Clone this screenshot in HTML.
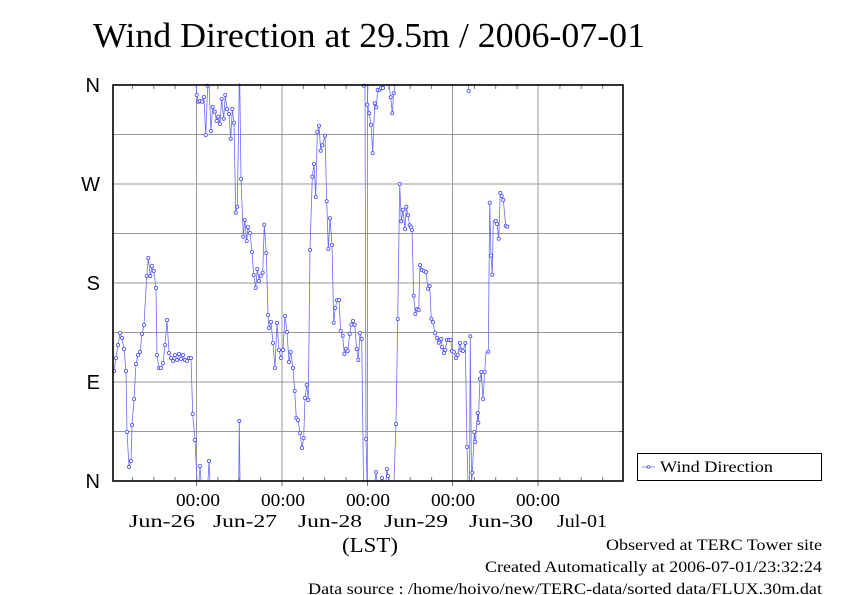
<!DOCTYPE html>
<html><head><meta charset="utf-8"><style>
html,body{margin:0;padding:0;background:#fff}
svg{display:block}
.s{font-family:"Liberation Serif",serif}
.a{font-family:"Liberation Sans",sans-serif}
</style></head><body>
<svg width="842" height="595" viewBox="0 0 842 595" xmlns="http://www.w3.org/2000/svg">
<text x="93" y="47" class="s" font-size="35" textLength="552" lengthAdjust="spacingAndGlyphs">Wind Direction at 29.5m / 2006-07-01</text>
<g stroke="#999" stroke-width="1">
<line x1="113" y1="134.5" x2="623" y2="134.5"/><line x1="113" y1="184" x2="623" y2="184"/>
<line x1="113" y1="233.5" x2="623" y2="233.5"/><line x1="113" y1="283" x2="623" y2="283"/>
<line x1="113" y1="332.5" x2="623" y2="332.5"/><line x1="113" y1="382" x2="623" y2="382"/>
<line x1="113" y1="431.5" x2="623" y2="431.5"/>
<line x1="196.5" y1="85" x2="196.5" y2="481"/><line x1="282" y1="85" x2="282" y2="481"/>
<line x1="367.5" y1="85" x2="367.5" y2="481"/><line x1="452.5" y1="85" x2="452.5" y2="481"/>
<line x1="538" y1="85" x2="538" y2="481"/>
</g>
<g stroke="#777" stroke-width="1">
<path d="M132.4 85v4M153.8 85v4M175.1 85v4M217.9 85v4M239.2 85v4M260.6 85v4M303.4 85v4M324.7 85v4M346.1 85v4M388.9 85v4M410.2 85v4M431.6 85v4M474.4 85v4M495.7 85v4M517.1 85v4M559.9 85v4M581.2 85v4M602.6 85v4"/>
<path d="M132.4 481v-4M153.8 481v-4M175.1 481v-4M217.9 481v-4M239.2 481v-4M260.6 481v-4M303.4 481v-4M324.7 481v-4M346.1 481v-4M388.9 481v-4M410.2 481v-4M431.6 481v-4M474.4 481v-4M495.7 481v-4M517.1 481v-4M559.9 481v-4M581.2 481v-4M602.6 481v-4"/>
<path d="M623 134.5h-4M623 233.5h-4M623 332.5h-4M623 431.5h-4M623 184h-4M623 283h-4M623 382h-4"/>
<path d="M196.5 481v5M282 481v5M367.5 481v5M452.5 481v5M538 481v5"/>
</g>
<g fill="none" stroke="#6a6aff" stroke-width="0.8" stroke-linejoin="round">
<polyline points="114,371 116,358 118,345 120,333 122,338 124,349 126,371 127,432 129,467 131,461 132,425 134,399 136,364 138,355 140,352 142,334 144,325 146.7,276 148.3,258 150.3,276 152,266 153.7,271 156,288 157,355 159,368 161,368 163,363 165,345 167,320 169,353 171,358 173,361 175,355 177,360 179,354 181,359 183,355 185,360 187,361 189,358 191,358 192.7,414 195,440 197,481"/>
<polyline points="199,481 200,466 201,481"/>
<polyline points="208,481 209,461 210,481"/>
<polyline points="196,85 196.7,95 198.3,101.7 200,101 202,101.7 204,97 205.7,135 207.7,85.7 209,85 211,131 212.7,107 214.7,111.7 216.7,121 218.3,116.7 220,124 221.7,99 223.7,118.7 225.3,95 227,109 229,114 230.7,138.7 232.3,109 234,122.7 235.7,212.7 237.3,206.7 239.3,83"/>
<polyline points="238.7,481 239.3,421 240,481"/>
<polyline points="239.8,85 241,179 243.3,236.7 244.7,220 246.7,241 248,227 250,233 252,252 253.7,275 255.7,288 257.3,269 259,281 260.7,275.7 262.7,272.7 264.3,224.7 266.3,253 268,315 269,328 271,322 273,343 275,368 277,323 279,350 281,358 283,350 285,316 287,332 289,362 290.7,352 293,368 294.7,391 296.3,418 298,420 300,433 302,448 303.7,438 305,398 306.7,385 308.3,400 310,250 312.3,176.7 314,164 315.7,197 317.3,132 319,125.7 320.7,150.7 322.3,145.3 325,135.7 326.7,201.3 328.3,249 330,218.3 332,245 333.7,322.7 335.3,308 337,300.3 339,300 340.7,331 342.7,335.7 344.3,354 346,349 347.7,351 349.7,334 351.3,324.7 353,321 354.7,324.7 356.7,349 358.3,360 360,333 361.7,339 363.5,481"/>
<polyline points="364,85.7 365,85 366,439 367,481"/>
<polyline points="375,481 376,472 377,481"/>
<polyline points="381,481 382,478 384,481"/>
<polyline points="386,481 387,469 388,476 389,481"/>
<polyline points="394,481 396,424 397.7,319 399.7,184 401.3,221.3 403,209.7 405,229 406.3,206.7 408,215.3 409.7,225.3 411,227.3 412,230 413.7,295.7 415.3,314 417,309.3 418.7,310 420,265 422,270 424,271 426,272 428,288.7 429.7,286 431.3,318.7 433,322.3 435,333 437,338 438.7,342.7 440,340 441.3,339 442,347 444,353 445.3,350 447,340 449,340 450.7,340 452,351 454,352 456,358 457.7,355 460,343 461.3,350 463,351 465.3,343 467,447 468,481"/>
<polyline points="368,85 367.3,104.7 369.3,113.3 371,124.7 372.7,153 374.7,103.3 376.3,107.3 377.7,90 379.7,89.7 381,88 383,88 384,85"/>
<polyline points="389,85 390.7,97.3 392.3,113.3 393.7,93.3 395,85"/>
<polyline points="468.5,85 468.7,91"/>
<polyline points="469.5,481 470.3,336.3 471.5,481"/>
<polyline points="471.7,481 472.3,472.7 474.3,432 475.3,442 477.7,413 478.3,422.7 480,378.7 481.3,372 483,399 484.7,372 486,352 488.3,351.7 489.7,202.7 491,255.7 492.3,274.7 493.3,221 495.7,221 497,224 498.7,238.7 500.3,193 501.7,196 503.3,200 505.7,225.7 507.3,226.7"/>
</g>
<g fill="#fff" stroke="#4a4aff" stroke-width="0.8">
<circle cx="114" cy="371" r="1.6"/><circle cx="116" cy="358" r="1.6"/><circle cx="118" cy="345" r="1.6"/><circle cx="120" cy="333" r="1.6"/><circle cx="122" cy="338" r="1.6"/><circle cx="124" cy="349" r="1.6"/><circle cx="126" cy="371" r="1.6"/><circle cx="127" cy="432" r="1.6"/><circle cx="129" cy="467" r="1.6"/><circle cx="131" cy="461" r="1.6"/><circle cx="132" cy="425" r="1.6"/><circle cx="134" cy="399" r="1.6"/><circle cx="136" cy="364" r="1.6"/><circle cx="138" cy="355" r="1.6"/><circle cx="140" cy="352" r="1.6"/><circle cx="142" cy="334" r="1.6"/><circle cx="144" cy="325" r="1.6"/><circle cx="146.7" cy="276" r="1.6"/><circle cx="148.3" cy="258" r="1.6"/><circle cx="150.3" cy="276" r="1.6"/><circle cx="152" cy="266" r="1.6"/><circle cx="153.7" cy="271" r="1.6"/><circle cx="156" cy="288" r="1.6"/><circle cx="157" cy="355" r="1.6"/><circle cx="159" cy="368" r="1.6"/><circle cx="161" cy="368" r="1.6"/><circle cx="163" cy="363" r="1.6"/><circle cx="165" cy="345" r="1.6"/><circle cx="167" cy="320" r="1.6"/><circle cx="169" cy="353" r="1.6"/><circle cx="171" cy="358" r="1.6"/><circle cx="173" cy="361" r="1.6"/><circle cx="175" cy="355" r="1.6"/><circle cx="177" cy="360" r="1.6"/><circle cx="179" cy="354" r="1.6"/><circle cx="181" cy="359" r="1.6"/><circle cx="183" cy="355" r="1.6"/><circle cx="185" cy="360" r="1.6"/><circle cx="187" cy="361" r="1.6"/><circle cx="189" cy="358" r="1.6"/><circle cx="191" cy="358" r="1.6"/><circle cx="192.7" cy="414" r="1.6"/><circle cx="195" cy="440" r="1.6"/>
<circle cx="200" cy="466" r="1.6"/><circle cx="209" cy="461" r="1.6"/><circle cx="239.3" cy="421" r="1.6"/>
<circle cx="196.7" cy="95" r="1.6"/><circle cx="198.3" cy="101.7" r="1.6"/><circle cx="200" cy="101" r="1.6"/><circle cx="202" cy="101.7" r="1.6"/><circle cx="204" cy="97" r="1.6"/><circle cx="205.7" cy="135" r="1.6"/><circle cx="207.7" cy="85.7" r="1.6"/><circle cx="211" cy="131" r="1.6"/><circle cx="212.7" cy="107" r="1.6"/><circle cx="214.7" cy="111.7" r="1.6"/><circle cx="216.7" cy="121" r="1.6"/><circle cx="218.3" cy="116.7" r="1.6"/><circle cx="220" cy="124" r="1.6"/><circle cx="221.7" cy="99" r="1.6"/><circle cx="223.7" cy="118.7" r="1.6"/><circle cx="225.3" cy="95" r="1.6"/><circle cx="227" cy="109" r="1.6"/><circle cx="229" cy="114" r="1.6"/><circle cx="230.7" cy="138.7" r="1.6"/><circle cx="232.3" cy="109" r="1.6"/><circle cx="234" cy="122.7" r="1.6"/><circle cx="235.7" cy="212.7" r="1.6"/><circle cx="237.3" cy="206.7" r="1.6"/>
<circle cx="241" cy="179" r="1.6"/><circle cx="243.3" cy="236.7" r="1.6"/><circle cx="244.7" cy="220" r="1.6"/><circle cx="246.7" cy="241" r="1.6"/><circle cx="248" cy="227" r="1.6"/><circle cx="250" cy="233" r="1.6"/><circle cx="252" cy="252" r="1.6"/><circle cx="253.7" cy="275" r="1.6"/><circle cx="255.7" cy="288" r="1.6"/><circle cx="257.3" cy="269" r="1.6"/><circle cx="259" cy="281" r="1.6"/><circle cx="260.7" cy="275.7" r="1.6"/><circle cx="262.7" cy="272.7" r="1.6"/><circle cx="264.3" cy="224.7" r="1.6"/><circle cx="266.3" cy="253" r="1.6"/><circle cx="268" cy="315" r="1.6"/><circle cx="269" cy="328" r="1.6"/><circle cx="271" cy="322" r="1.6"/><circle cx="273" cy="343" r="1.6"/><circle cx="275" cy="368" r="1.6"/><circle cx="277" cy="323" r="1.6"/><circle cx="279" cy="350" r="1.6"/><circle cx="281" cy="358" r="1.6"/><circle cx="283" cy="350" r="1.6"/><circle cx="285" cy="316" r="1.6"/><circle cx="287" cy="332" r="1.6"/><circle cx="289" cy="362" r="1.6"/><circle cx="290.7" cy="352" r="1.6"/><circle cx="293" cy="368" r="1.6"/><circle cx="294.7" cy="391" r="1.6"/><circle cx="296.3" cy="418" r="1.6"/><circle cx="298" cy="420" r="1.6"/><circle cx="300" cy="433" r="1.6"/><circle cx="302" cy="448" r="1.6"/><circle cx="303.7" cy="438" r="1.6"/><circle cx="305" cy="398" r="1.6"/><circle cx="306.7" cy="385" r="1.6"/><circle cx="308.3" cy="400" r="1.6"/><circle cx="310" cy="250" r="1.6"/><circle cx="312.3" cy="176.7" r="1.6"/><circle cx="314" cy="164" r="1.6"/><circle cx="315.7" cy="197" r="1.6"/><circle cx="317.3" cy="132" r="1.6"/><circle cx="319" cy="125.7" r="1.6"/><circle cx="320.7" cy="150.7" r="1.6"/><circle cx="322.3" cy="145.3" r="1.6"/><circle cx="325" cy="135.7" r="1.6"/><circle cx="326.7" cy="201.3" r="1.6"/><circle cx="328.3" cy="249" r="1.6"/><circle cx="330" cy="218.3" r="1.6"/><circle cx="332" cy="245" r="1.6"/><circle cx="333.7" cy="322.7" r="1.6"/><circle cx="335.3" cy="308" r="1.6"/><circle cx="337" cy="300.3" r="1.6"/><circle cx="339" cy="300" r="1.6"/><circle cx="340.7" cy="331" r="1.6"/><circle cx="342.7" cy="335.7" r="1.6"/><circle cx="344.3" cy="354" r="1.6"/><circle cx="346" cy="349" r="1.6"/><circle cx="347.7" cy="351" r="1.6"/><circle cx="349.7" cy="334" r="1.6"/><circle cx="351.3" cy="324.7" r="1.6"/><circle cx="353" cy="321" r="1.6"/><circle cx="354.7" cy="324.7" r="1.6"/><circle cx="356.7" cy="349" r="1.6"/><circle cx="358.3" cy="360" r="1.6"/><circle cx="360" cy="333" r="1.6"/><circle cx="361.7" cy="339" r="1.6"/>
<circle cx="364" cy="85.7" r="1.6"/><circle cx="366" cy="439" r="1.6"/><circle cx="376" cy="472" r="1.6"/><circle cx="382" cy="478" r="1.6"/><circle cx="387" cy="469" r="1.6"/><circle cx="388" cy="476" r="1.6"/>
<circle cx="367.3" cy="104.7" r="1.6"/><circle cx="369.3" cy="113.3" r="1.6"/><circle cx="371" cy="124.7" r="1.6"/><circle cx="372.7" cy="153" r="1.6"/><circle cx="374.7" cy="103.3" r="1.6"/><circle cx="376.3" cy="107.3" r="1.6"/><circle cx="377.7" cy="90" r="1.6"/><circle cx="379.7" cy="89.7" r="1.6"/><circle cx="381" cy="88" r="1.6"/><circle cx="383" cy="88" r="1.6"/><circle cx="390.7" cy="97.3" r="1.6"/><circle cx="392.3" cy="113.3" r="1.6"/><circle cx="393.7" cy="93.3" r="1.6"/><circle cx="468.7" cy="91" r="1.6"/>
<circle cx="396" cy="424" r="1.6"/><circle cx="397.7" cy="319" r="1.6"/><circle cx="399.7" cy="184" r="1.6"/><circle cx="401.3" cy="221.3" r="1.6"/><circle cx="403" cy="209.7" r="1.6"/><circle cx="405" cy="229" r="1.6"/><circle cx="406.3" cy="206.7" r="1.6"/><circle cx="408" cy="215.3" r="1.6"/><circle cx="409.7" cy="225.3" r="1.6"/><circle cx="411" cy="227.3" r="1.6"/><circle cx="412" cy="230" r="1.6"/><circle cx="413.7" cy="295.7" r="1.6"/><circle cx="415.3" cy="314" r="1.6"/><circle cx="417" cy="309.3" r="1.6"/><circle cx="418.7" cy="310" r="1.6"/><circle cx="420" cy="265" r="1.6"/><circle cx="422" cy="270" r="1.6"/><circle cx="424" cy="271" r="1.6"/><circle cx="426" cy="272" r="1.6"/><circle cx="428" cy="288.7" r="1.6"/><circle cx="429.7" cy="286" r="1.6"/><circle cx="431.3" cy="318.7" r="1.6"/><circle cx="433" cy="322.3" r="1.6"/><circle cx="435" cy="333" r="1.6"/><circle cx="437" cy="338" r="1.6"/><circle cx="438.7" cy="342.7" r="1.6"/><circle cx="440" cy="340" r="1.6"/><circle cx="441.3" cy="339" r="1.6"/><circle cx="442" cy="347" r="1.6"/><circle cx="444" cy="353" r="1.6"/><circle cx="445.3" cy="350" r="1.6"/><circle cx="447" cy="340" r="1.6"/><circle cx="449" cy="340" r="1.6"/><circle cx="450.7" cy="340" r="1.6"/><circle cx="452" cy="351" r="1.6"/><circle cx="454" cy="352" r="1.6"/><circle cx="456" cy="358" r="1.6"/><circle cx="457.7" cy="355" r="1.6"/><circle cx="460" cy="343" r="1.6"/><circle cx="461.3" cy="350" r="1.6"/><circle cx="463" cy="351" r="1.6"/><circle cx="465.3" cy="343" r="1.6"/><circle cx="467" cy="447" r="1.6"/><circle cx="470.3" cy="336.3" r="1.6"/>
<circle cx="472.3" cy="472.7" r="1.6"/><circle cx="474.3" cy="432" r="1.6"/><circle cx="475.3" cy="442" r="1.6"/><circle cx="477.7" cy="413" r="1.6"/><circle cx="478.3" cy="422.7" r="1.6"/><circle cx="480" cy="378.7" r="1.6"/><circle cx="481.3" cy="372" r="1.6"/><circle cx="483" cy="399" r="1.6"/><circle cx="484.7" cy="372" r="1.6"/><circle cx="488.3" cy="351.7" r="1.6"/><circle cx="489.7" cy="202.7" r="1.6"/><circle cx="491" cy="255.7" r="1.6"/><circle cx="492.3" cy="274.7" r="1.6"/><circle cx="495.7" cy="221" r="1.6"/><circle cx="497" cy="224" r="1.6"/><circle cx="498.7" cy="238.7" r="1.6"/><circle cx="500.3" cy="193" r="1.6"/><circle cx="501.7" cy="196" r="1.6"/><circle cx="503.3" cy="200" r="1.6"/><circle cx="505.7" cy="225.7" r="1.6"/><circle cx="507.3" cy="226.7" r="1.6"/>
</g>
<rect x="113" y="85" width="510" height="396" fill="none" stroke="#000" stroke-width="1.6"/>
<g class="a" font-size="20" text-anchor="end">
<text x="100" y="92">N</text><text x="100" y="191">W</text><text x="100" y="290">S</text><text x="100" y="389">E</text><text x="100" y="488">N</text>
</g>
<g class="s" font-size="18">
<text x="176" y="506" textLength="44" lengthAdjust="spacingAndGlyphs">00:00</text>
<text x="261" y="506" textLength="44" lengthAdjust="spacingAndGlyphs">00:00</text>
<text x="346" y="506" textLength="44" lengthAdjust="spacingAndGlyphs">00:00</text>
<text x="431" y="506" textLength="44" lengthAdjust="spacingAndGlyphs">00:00</text>
<text x="516" y="506" textLength="44" lengthAdjust="spacingAndGlyphs">00:00</text>
<text x="129" y="527" textLength="66" lengthAdjust="spacingAndGlyphs">Jun-26</text>
<text x="213" y="527" textLength="64" lengthAdjust="spacingAndGlyphs">Jun-27</text>
<text x="298" y="527" textLength="64" lengthAdjust="spacingAndGlyphs">Jun-28</text>
<text x="384" y="527" textLength="64" lengthAdjust="spacingAndGlyphs">Jun-29</text>
<text x="469" y="527" textLength="64" lengthAdjust="spacingAndGlyphs">Jun-30</text>
<text x="557" y="527" textLength="50" lengthAdjust="spacingAndGlyphs">Jul-01</text>
</g>
<text x="342" y="552" class="s" font-size="21" textLength="56" lengthAdjust="spacingAndGlyphs">(LST)</text>
<rect x="637.5" y="453.5" width="184" height="27" fill="#fff" stroke="#000" stroke-width="1"/>
<line x1="642" y1="467" x2="655" y2="467" stroke="#6a6aff" stroke-width="0.8"/>
<circle cx="648.5" cy="467" r="1.4" fill="#fff" stroke="#4a4aff" stroke-width="0.8"/>
<text x="660" y="472" class="s" font-size="16" textLength="113" lengthAdjust="spacingAndGlyphs">Wind Direction</text>
<g class="s" font-size="16">
<text x="606" y="550" textLength="216" lengthAdjust="spacingAndGlyphs">Observed at TERC Tower site</text>
<text x="485" y="572" textLength="337" lengthAdjust="spacingAndGlyphs">Created Automatically at 2006-07-01/23:32:24</text>
<text x="308" y="594" textLength="514" lengthAdjust="spacingAndGlyphs">Data source : /home/hoivo/new/TERC-data/sorted  data/FLUX.30m.dat</text>
</g>
</svg>
</body></html>
